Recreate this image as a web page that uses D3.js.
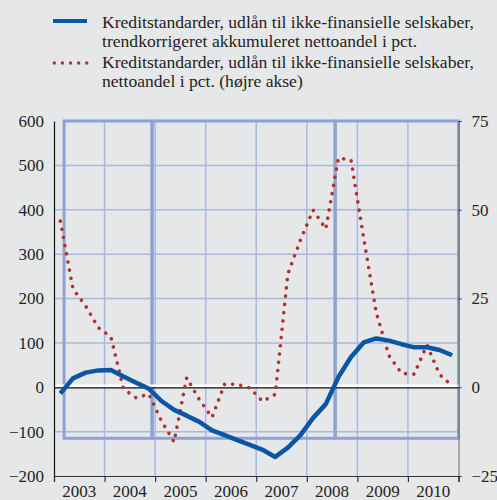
<!DOCTYPE html>
<html>
<head>
<meta charset="utf-8">
<script src="https://cdn.jsdelivr.net/npm/d3@7"></script>
<style>
  html, body { margin: 0; padding: 0; background: #e6e7e9; }
  svg { display: block; }
  text { font-family: "Liberation Serif", "DejaVu Serif", serif; fill: #231f20; }
</style>
</head>
<body>
<div id="chart"></div>
<script>
// years on the x axis, data is quarterly (2003K1 - 2010K4)
var years = [2003, 2004, 2005, 2006, 2007, 2008, 2009, 2010];
var quarters = [];
years.forEach(function (y) { ["K1", "K2", "K3", "K4"].forEach(function (q) { quarters.push(y + q); }); });

// trend adjusted accumulated net share (left axis)
var akkumuleret = [-14, 20, 33, 38, 39, 24, 10, -3,
                   -31, -51, -64, -78, -97, -108, -119, -130,
                   -141, -157, -136, -108, -69, -38, 23, 68,
                   101, 110, 105, 97, 90, 90, 84, 72];
// net share in pct (right axis)
var nettoandel = [46.8, 27.7, 22.9, 16.8, 14.2, -0.5, -3.0, -1.9,
                  -9.5, -15.4, 2.7, -3.5, -8.5, 0.9, 0.8, -0.2,
                  -4.0, -2.0, 31.9, 41.5, 49.9, 44.6, 64.6, 64.0,
                  42.0, 20.9, 8.9, 3.9, 3.7, 11.9, 3.6, 0.4];

// periods drawn as boxes behind the curves
var perioder = [[2003.2, 2004.94], [2004.94, 2008.56], [2008.56, 2011]];
var periodeBund = -115;

var leftTicks = [600, 500, 400, 300, 200, 100, 0, -100, -200];
var rightTicks = [75, 50, 25, 0, -25];

var legendTexts = [
    ["Kreditstandarder, udlån til ikke-finansielle selskaber,", "trendkorrigeret akkumuleret nettoandel i pct."],
    ["Kreditstandarder, udlån til ikke-finansielle selskaber,", "nettoandel i pct. (højre akse)"]
];

var W = 497, H = 500;
var blue = "#0b56a4", red = "#b0302c";
var gridColor = "#a9b8e0", boxColor = "#8ea2d4";
var serif = "'Liberation Serif', 'DejaVu Serif', serif";

var svg = d3.select("#chart").append("svg")
    .attr("width", W).attr("height", H);

var x = d3.scaleLinear().domain([2003, 2011]).range([54, 458.5]);
var yL = d3.scaleLinear().domain([-200, 600]).range([476, 121]);
var yR = d3.scaleLinear().domain([-25, 75]).range([476, 121]);

function qx(i) { return x(2003 + i * 0.25 + 0.125); }

// horizontal gridlines
svg.append("g").selectAll("line")
    .data(leftTicks.filter(function (d) { return d !== 0 && d !== -200 && d !== 600; }))
    .enter().append("line")
        .attr("x1", x(2003)).attr("x2", x(2011))
        .attr("y1", function (d) { return yL(d); })
        .attr("y2", function (d) { return yL(d); })
        .attr("stroke", gridColor).attr("stroke-width", 1.5);

// vertical gridlines at year boundaries
svg.append("g").selectAll("line")
    .data(years.slice(1))
    .enter().append("line")
        .attr("x1", function (d) { return x(d); })
        .attr("x2", function (d) { return x(d); })
        .attr("y1", yL(600)).attr("y2", yL(-200))
        .attr("stroke", gridColor).attr("stroke-width", 1.5);

// period boxes
svg.append("g").selectAll("rect")
    .data(perioder)
    .enter().append("rect")
        .attr("x", function (d) { return x(d[0]); })
        .attr("y", yL(600))
        .attr("width", function (d) { return x(d[1]) - x(d[0]); })
        .attr("height", yL(periodeBund) - yL(600))
        .attr("fill", "none")
        .attr("stroke", boxColor).attr("stroke-width", 3);

// zero line
svg.append("line")
    .attr("x1", x(2003)).attr("x2", x(2011))
    .attr("y1", yL(0) - 1.5).attr("y2", yL(0) - 1.5)
    .attr("stroke", "#fff").attr("stroke-width", 2.5);
svg.append("line")
    .attr("x1", x(2003)).attr("x2", x(2011))
    .attr("y1", yL(0) + 0.7).attr("y2", yL(0) + 0.7)
    .attr("stroke", "#111").attr("stroke-width", 1.2);

// axes
var xAxis = svg.append("g")
    .attr("transform", "translate(0," + yL(-200) + ")")
    .call(d3.axisBottom(x).tickValues(years.concat([2011])).tickSize(6).tickFormat(""));
xAxis.select(".domain").attr("stroke", "#333").attr("stroke-width", 1.2);
xAxis.selectAll(".tick line").attr("stroke", "#333").attr("stroke-width", 1.2);

svg.append("g").selectAll("text")
    .data(years)
    .enter().append("text")
        .attr("x", function (d) { return x(d + 0.5); })
        .attr("y", 497)
        .attr("text-anchor", "middle")
        .style("font-size", "17px")
        .style("font-family", serif)
        .text(function (d) { return d; });

var leftAxis = svg.append("g")
    .attr("transform", "translate(" + x(2003) + ",0)")
    .call(d3.axisLeft(yL).tickValues(leftTicks).tickSize(0).tickPadding(10));
leftAxis.select(".domain").attr("stroke", "#111").attr("stroke-width", 1.2);
leftAxis.selectAll("text").style("font-size", "17px").attr("fill", "#231f20")
    .style("font-family", serif);

var rightAxis = svg.append("g")
    .attr("transform", "translate(" + x(2011) + ",0)")
    .call(d3.axisRight(yR).tickValues(rightTicks).tickSize(3).tickPadding(10));
rightAxis.select(".domain").attr("stroke", "#666").attr("stroke-width", 1);
rightAxis.selectAll(".tick line").attr("stroke", "#333");
rightAxis.selectAll("text").style("font-size", "17px").attr("fill", "#231f20")
    .style("font-family", serif);

// curves
var lineL = d3.line()
    .x(function (d, i) { return qx(i); })
    .y(function (d) { return yL(d); });
var lineR = d3.line()
    .x(function (d, i) { return qx(i); })
    .y(function (d) { return yR(d); });

svg.append("path")
    .datum(nettoandel)
    .attr("d", lineR)
    .attr("fill", "none")
    .attr("stroke", red)
    .attr("stroke-width", 3.6)
    .attr("stroke-linecap", "round")
    .attr("stroke-dasharray", "0.01 8.3");

svg.append("path")
    .datum(akkumuleret)
    .attr("d", lineL)
    .attr("fill", "none")
    .attr("stroke", blue)
    .attr("stroke-width", 4.5)
    .attr("stroke-linejoin", "round");

// legend
var legend = svg.append("g");
legend.append("line")
    .attr("x1", 53).attr("x2", 87).attr("y1", 21).attr("y2", 21)
    .attr("stroke", blue).attr("stroke-width", 4);
legend.append("line")
    .attr("x1", 54.3).attr("x2", 87).attr("y1", 63).attr("y2", 63)
    .attr("stroke", red).attr("stroke-width", 3.4)
    .attr("stroke-linecap", "round")
    .attr("stroke-dasharray", "0.01 8.1");

var legendY = [[28, 47], [68, 87]];
legendTexts.forEach(function (lines, k) {
    lines.forEach(function (t, j) {
        legend.append("text")
            .attr("x", 102).attr("y", legendY[k][j])
            .style("font-size", "17.6px")
            .style("font-family", serif)
            .text(t);
    });
});
</script>
</body>
</html>
